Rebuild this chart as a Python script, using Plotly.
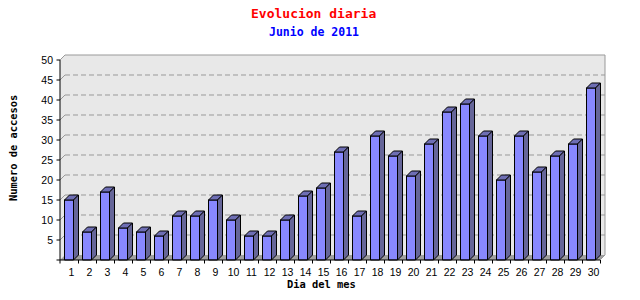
import plotly.graph_objects as go

days = list(range(1, 31))
visits = [15, 7, 17, 8, 7, 6, 11, 11, 15, 10, 6, 6, 10, 16, 18,
          27, 11, 31, 26, 21, 29, 37, 39, 31, 20, 31, 22, 26, 29, 43]
y_ticks = [5, 10, 15, 20, 25, 30, 35, 40, 45, 50]
title = "Evolucion diaria"
subtitle = "Junio de 2011"
x_title = "Dia del mes"
y_title = "Numero de accesos"

# geometry (pixels -> data units)
PX_X = 18.0   # px per day
PX_Y = 4.0    # px per visit
DX = 5 / PX_X
DY = 5 / PX_Y
HW = 0.25     # half bar width
X0, X1 = 0.5, 30.5
YMAX = 50

L, R, T, B = 56, 32, 52, 36
W, H = 640, 300
xr = [X0 - (60 - L) / PX_X, X0 + (W - R - 60) / PX_X]
yr = [-(H - B - 260) / PX_Y, (260 - T) / PX_Y]

fig = go.Figure()

fig.add_trace(go.Bar(x=days, y=visits, width=2 * HW,
                     marker=dict(color="#8888ff", line=dict(color="black", width=1)),
                     hoverinfo="skip"))

top_x, top_y, side_x, side_y = [], [], [], []
for d, v in zip(days, visits):
    top_x += [d - HW, d - HW + DX, d + HW + DX, d + HW, d - HW, None]
    top_y += [v, v + DY, v + DY, v, v, None]
    side_x += [d + HW, d + HW, d + HW + DX, d + HW + DX, d + HW, None]
    side_y += [0, v, v + DY, DY, 0, None]

fig.add_trace(go.Scatter(x=top_x, y=top_y, mode="lines", fill="toself",
                         fillcolor="#6e6eb4", line=dict(color="black", width=1),
                         hoverinfo="skip"))
fig.add_trace(go.Scatter(x=side_x, y=side_y, mode="lines", fill="toself",
                         fillcolor="#666699", line=dict(color="black", width=1),
                         hoverinfo="skip"))

shapes = []
# back plane
shapes.append(dict(type="rect", x0=X0 + DX, x1=X1 + DX, y0=DY, y1=YMAX + DY,
                   fillcolor="#e8e8e8", line=dict(width=0), layer="below"))
# left wall
shapes.append(dict(type="path",
                   path=f"M{X0},0 L{X0},{YMAX} L{X0+DX},{YMAX+DY} L{X0+DX},{DY} Z",
                   fillcolor="#e8e8e8", line=dict(width=0), layer="below"))
# floor
shapes.append(dict(type="path",
                   path=f"M{X0},0 L{X1},0 L{X1+DX},{DY} L{X0+DX},{DY} Z",
                   fillcolor="#a0a0a0", line=dict(width=0), layer="below"))
# grid lines
for v in y_ticks[:-1]:
    shapes.append(dict(type="line", x0=X0 + DX, x1=X1 + DX, y0=v + DY, y1=v + DY,
                       line=dict(color="#999999", width=1, dash="5px,3px"), layer="below"))
    shapes.append(dict(type="line", x0=X0, x1=X0 + DX, y0=v, y1=v + DY,
                       line=dict(color="#999999", width=1), layer="below"))
# frame of back plane
shapes.append(dict(type="path",
                   path=f"M{X0},{YMAX} L{X0+DX},{YMAX+DY} L{X1+DX},{YMAX+DY} L{X1+DX},{DY} L{X1},0",
                   line=dict(color="#999999", width=1), layer="below"))
# axis lines
shapes.append(dict(type="line", x0=X0, x1=X0, y0=0, y1=YMAX,
                   line=dict(color="black", width=1), layer="above"))
shapes.append(dict(type="line", x0=X0, x1=X1, y0=0, y1=0,
                   line=dict(color="black", width=1), layer="above"))
# y ticks
for v in [0] + y_ticks:
    shapes.append(dict(type="line", x0=X0 - 3.5 / PX_X, x1=X0, y0=v, y1=v,
                       line=dict(color="black", width=1), layer="above"))
# x ticks
for d in [0] + days:
    xt = X0 if d == 0 else d + HW + DX
    shapes.append(dict(type="line", x0=xt, x1=xt, y0=0, y1=-3.5 / PX_Y,
                       line=dict(color="black", width=1), layer="above"))

annotations = [
    dict(text=f"<b>{title}</b>", x=(313.8 - L) / (W - L - R), y=(H - B - 14) / (H - T - B),
         xref="paper", yref="paper", showarrow=False, xanchor="center", yanchor="middle",
         font=dict(family="DejaVu Sans Mono", size=13, color="#ff0000")),
    dict(text=f"<b>{subtitle}</b>", x=(314.3 - L) / (W - L - R), y=(H - B - 31.7) / (H - T - B),
         xref="paper", yref="paper", showarrow=False, xanchor="center", yanchor="middle",
         font=dict(family="DejaVu Sans Mono", size=11.5, color="#0000ff")),
    dict(text=f"<b>{x_title}</b>", x=(321 - L) / (W - L - R), y=(H - B - 283.5) / (H - T - B),
         xref="paper", yref="paper", showarrow=False, xanchor="center", yanchor="middle",
         font=dict(family="DejaVu Sans Mono", size=10.4, color="black")),
    dict(text=f"<b>{y_title}</b>", x=(13 - L) / (W - L - R), y=(H - B - 148) / (H - T - B),
         xref="paper", yref="paper", showarrow=False, xanchor="center", yanchor="middle",
         textangle=-90,
         font=dict(family="DejaVu Sans Mono", size=10.4, color="black")),
]

fig.update_layout(
    width=W, height=H,
    margin=dict(l=L, r=R, t=T, b=B, pad=0),
    paper_bgcolor="white", plot_bgcolor="white",
    showlegend=False,
    shapes=shapes,
    annotations=annotations,
    xaxis=dict(range=xr, showgrid=False, zeroline=False, showline=False,
               tickmode="array", tickvals=[d + DX / 2 for d in days],
               ticktext=[str(d) for d in days], ticks="",
               tickfont=dict(family="Liberation Sans", size=10.5, color="black"),
               fixedrange=True),
    yaxis=dict(range=yr, showgrid=False, zeroline=False, showline=False,
               tickmode="array", tickvals=y_ticks,
               ticktext=[str(v) for v in y_ticks], ticks="",
               ticklabelstandoff=2,
               tickfont=dict(family="Liberation Sans", size=10.5, color="black"),
               fixedrange=True),
)

fig.write_html("out.html")
